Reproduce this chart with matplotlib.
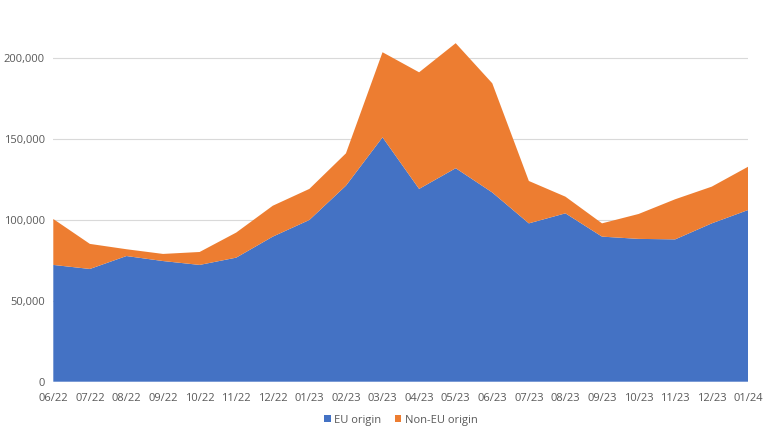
import numpy as np
import matplotlib.pyplot as plt
from matplotlib.ticker import FuncFormatter

# 月份标签
months = ['06/22', '07/22', '08/22', '09/22', '10/22', '11/22', '12/22',
          '01/23', '02/23', '03/23', '04/23', '05/23', '06/23', '07/23',
          '08/23', '09/23', '10/23', '11/23', '12/23', '01/24']

# 估读的数值
eu_origin = [72200, 69700, 77700, 74600, 72200, 76700, 89700,
             100000, 121200, 151100, 119200, 132000, 117000, 97900,
             104100, 89700, 88300, 88000, 97900, 106200]
total = [100600, 85200, 81900, 79000, 80200, 92200, 108800,
         119200, 141200, 203700, 191300, 209300, 184500, 124100,
         114400, 97900, 103700, 112800, 120600, 133000]
non_eu_origin = [t - e for t, e in zip(total, eu_origin)]

blue = '#4472C4'
orange = '#ED7D31'
grey = '#595959'

plt.rcParams['font.family'] = ['Open Sans', 'DejaVu Sans']

fig = plt.figure(figsize=(7.68, 4.26), dpi=100)
ax = fig.add_axes([0.0694, 0.104, 0.905, 0.896])

x = np.arange(len(months))
ax.stackplot(x, eu_origin, non_eu_origin, colors=[blue, orange],
             labels=['EU origin', 'Non-EU origin'], linewidth=0)

ax.set_xlim(0, len(months) - 1)
ax.set_ylim(0, 236000)
ax.set_yticks([0, 50000, 100000, 150000, 200000])
ax.yaxis.set_major_formatter(FuncFormatter(lambda v, p: f'{int(v):,}'))
ax.set_xticks(x)
ax.set_xticklabels(months)

ax.grid(axis='y', color='#D9D9D9', linewidth=0.8)
ax.set_axisbelow(True)
for s in ax.spines.values():
    s.set_visible(False)
ax.tick_params(length=0, labelsize=8, colors=grey)
ax.tick_params(axis='x', pad=8)
ax.tick_params(axis='y', pad=6)

ax.legend(loc='upper center', bbox_to_anchor=(0.5, -0.06), ncol=2,
          frameon=False, fontsize=8, labelcolor=grey, handlelength=0.6,
          handleheight=0.6, handletextpad=0.3, columnspacing=1.2)

fig.savefig('out.png', dpi=100)
